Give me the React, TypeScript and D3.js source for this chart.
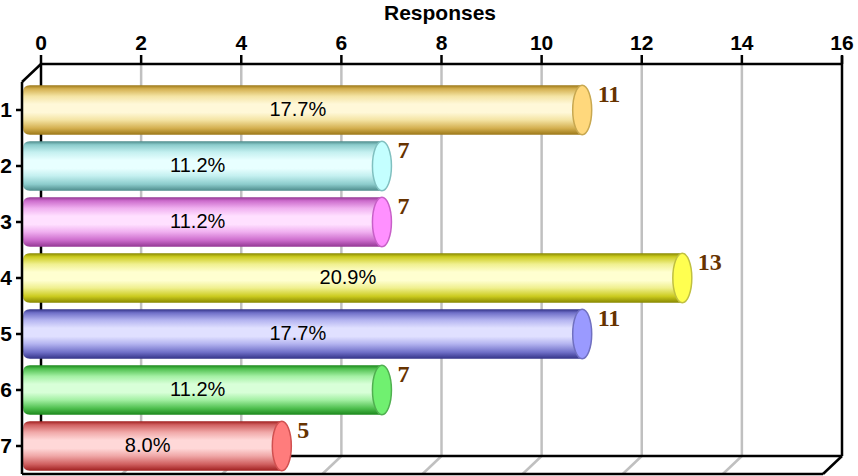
import React from "react";
import * as d3 from "d3";

const categories = ["1", "2", "3", "4", "5", "6", "7"];
const values = [11, 7, 7, 13, 11, 7, 5];
const percents = ["17.7%", "11.2%", "11.2%", "20.9%", "17.7%", "11.2%", "8.0%"];
const ticks = [0, 2, 4, 6, 8, 10, 12, 14, 16];
const title = "Responses";

const palette = [
  { dark: "#9C7818", mid: "#D4B050", light: "#F4E4A4", top: "#FFF8D8", cap: "#FFD87C", capStroke: "#C8A850" },
  { dark: "#4E8C8C", mid: "#8CCCCC", light: "#C4F0F0", top: "#E8FFFF", cap: "#C4FFFF", capStroke: "#80C0C0" },
  { dark: "#943894", mid: "#CC6CCC", light: "#F0B0F0", top: "#FFE0FF", cap: "#FF90FF", capStroke: "#C860C8" },
  { dark: "#888800", mid: "#CCCC20", light: "#F0F090", top: "#FFFFD0", cap: "#FFFF50", capStroke: "#C0C040" },
  { dark: "#343488", mid: "#7070C8", light: "#B4B4F0", top: "#E0E0FF", cap: "#9A9AFF", capStroke: "#7070C0" },
  { dark: "#1C881C", mid: "#50C050", light: "#A4F0A4", top: "#D8FFD8", cap: "#70F070", capStroke: "#50B050" },
  { dark: "#A02020", mid: "#D06060", light: "#F0A8A8", top: "#FFD8D8", cap: "#FF7C7C", capStroke: "#D05050" },
];

const W = 858;
const H = 476;
const DX = -19;
const DY = 18;

export default function App() {
  const x = d3.scaleLinear().domain([0, 16]).range([41, 842]);
  const backTop = 64;
  const backBottom = 456;
  const y = d3
    .scaleBand<string>()
    .domain(categories)
    .range([backTop + DY, backBottom + DY])
    .paddingInner(0.12)
    .paddingOuter(0.06);
  const bw = y.bandwidth();
  const capRx = 9.5;
  const barLeft = x(0) + DX + 1;
  const font = "'Liberation Sans', Arial, sans-serif";

  return (
    <svg
      width={W}
      height={H}
      style={{ position: "absolute", left: 0, top: 0, background: "#fff" }}
    >
      <defs>
        {palette.map((p, i) => (
          <linearGradient key={i} id={`g${i}`} x1="0" y1="0" x2="0" y2="1">
            <stop offset="0" stopColor={p.dark} />
            <stop offset="0.07" stopColor={p.mid} />
            <stop offset="0.22" stopColor={p.light} />
            <stop offset="0.38" stopColor={p.top} />
            <stop offset="0.55" stopColor={p.top} />
            <stop offset="0.7" stopColor={p.light} />
            <stop offset="0.87" stopColor={p.mid} />
            <stop offset="1" stopColor={p.dark} />
          </linearGradient>
        ))}
      </defs>

      {/* title */}
      <text x={440} y={20} textAnchor="middle" fontFamily={font} fontWeight="bold" fontSize={21}>
        {title}
      </text>

      {/* gridlines on back plane and floor */}
      {ticks.slice(1, -1).map((t) => (
        <g key={t} stroke="#c0c0c0" strokeWidth={2.5}>
          <line x1={x(t)} y1={backTop} x2={x(t)} y2={backBottom} />
          <line x1={x(t)} y1={backBottom} x2={x(t) + DX} y2={backBottom + DY} />
        </g>
      ))}

      {/* back plane frame */}
      <g stroke="#000" strokeWidth={2.5} fill="none">
        <line x1={x(0)} y1={backTop} x2={x(16)} y2={backTop} />
        <line x1={x(0)} y1={backTop} x2={x(0)} y2={backBottom} />
        <line x1={x(16)} y1={backTop - 8} x2={x(16)} y2={backBottom} />
        <line x1={x(0)} y1={backBottom} x2={x(16)} y2={backBottom} />
        <line x1={x(16)} y1={backBottom} x2={x(16) + DX} y2={backBottom + DY} />
        <line x1={x(0) + DX} y1={backBottom + DY} x2={x(16) + DX} y2={backBottom + DY} />
        <line x1={x(0)} y1={backTop} x2={x(0) + DX} y2={backTop + DY} />
        {ticks.map((t) => (
          <line key={t} x1={x(t)} y1={backTop - 9} x2={x(t)} y2={backTop} />
        ))}
      </g>

      {/* tick labels */}
      {ticks.map((t) => (
        <text
          key={t}
          x={x(t)}
          y={50}
          textAnchor="middle"
          fontFamily={font}
          fontWeight="bold"
          fontSize={21}
        >
          {t}
        </text>
      ))}

      {/* bars */}
      {values.map((v, i) => {
        const top = y(categories[i])!;
        const cx = x(v) - capRx;
        const p = palette[i];
        const r = 7;
        const path = `M${cx},${top} L${barLeft + r},${top} Q${barLeft},${top} ${barLeft},${top + r} L${barLeft},${top + bw - r} Q${barLeft},${top + bw} ${barLeft + r},${top + bw} L${cx},${top + bw} Z`;
        return (
          <g key={i}>
            <path d={path} fill={`url(#g${i})`} />
            <ellipse
              cx={cx}
              cy={top + bw / 2}
              rx={capRx}
              ry={bw / 2}
              fill={p.cap}
              stroke={p.capStroke}
              strokeWidth={1.5}
            />
            <text
              x={(barLeft + x(v) + DX) / 2}
              y={top + bw / 2 + 6}
              textAnchor="middle"
              fontFamily={font}
              fontSize={20}
              fill="#000"
            >
              {percents[i]}
            </text>
            <text
              x={x(v) + 6}
              y={top + 17}
              fontFamily="'Liberation Serif', serif"
              fontWeight="bold"
              fontSize={24}
              fill="#663300"
            >
              {v}
            </text>
          </g>
        );
      })}

      {/* front left axis */}
      <g stroke="#000" strokeWidth={2.5}>
        <line x1={x(0) + DX} y1={backTop + DY} x2={x(0) + DX} y2={backBottom + DY} />
        {categories.map((c) => (
          <line
            key={c}
            x1={x(0) + DX - 6}
            y1={y(c)! + bw / 2}
            x2={x(0) + DX}
            y2={y(c)! + bw / 2}
          />
        ))}
      </g>
      {categories.map((c) => (
        <text
          key={c}
          x={12}
          y={y(c)! + bw / 2 + 7}
          textAnchor="end"
          fontFamily={font}
          fontWeight="bold"
          fontSize={21}
        >
          {c}
        </text>
      ))}
    </svg>
  );
}
